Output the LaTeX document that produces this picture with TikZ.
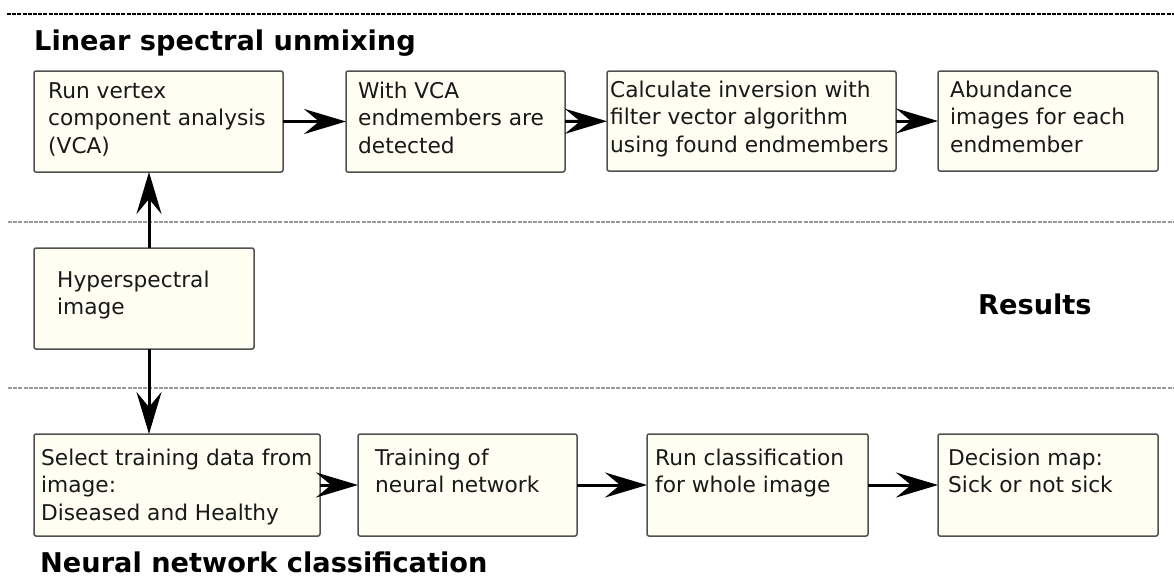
\documentclass[tikz,border=0pt]{standalone}
\usepackage{fontspec}
\setmainfont{DejaVu Sans}
\usetikzlibrary{arrows.meta}
\definecolor{boxfill}{RGB}{255,254,242}
\definecolor{boxline}{RGB}{80,80,80}
\definecolor{txt}{RGB}{25,25,25}
\newcommand\bodyfont{\fontsize{21.7}{27.5}\selectfont}
\newcommand\titlefont{\fontsize{27.2}{32}\selectfont\bfseries}
\tikzset{
  stepbox/.style={draw=boxline, line width=1.5pt, fill=boxfill, rounded corners=2pt,
    inner sep=0pt, outer sep=0pt, anchor=north west, minimum height=101pt},
  boxtext/.style={anchor=north west, inner sep=0pt, align=left, text=txt,
    font=\bodyfont},
  sectitle/.style={anchor=base west, inner sep=0pt, text=black, font=\titlefont},
  arr/.style={line width=3pt, -{Stealth[length=42pt,width=25pt,inset=15pt]}},
  sepline/.style={line width=2.2pt, dash pattern=on 4pt off 1.2pt}
}
\begin{document}
\begin{tikzpicture}[x=1pt,y=-1pt]
\useasboundingbox (0,0) rectangle (1174,579);
% separators
\draw[sepline, black] (7,14) -- (1174,14);
\draw[sepline, black!40] (8,222) -- (1174,222);
\draw[sepline, black!40] (8,388) -- (1174,388);
% titles
\node[sectitle] (t1) at (34,50) {Linear spectral unmixing};
\node[sectitle] (t2) at (40,572) {Neural network classification};
\node[sectitle] (t3) at (978,314) {Results};
% top row
\node[stepbox, minimum width=249pt] (v1) at (34,71) {};
\node[stepbox, minimum width=219pt] (v2) at (346,71) {};
\node[stepbox, minimum width=289pt, minimum height=100pt] (v3) at (607,71) {};
\node[stepbox, minimum width=220pt, minimum height=100pt] (v4) at (938,71) {};
\node[boxtext] (v1t) at (48,79) {\strut Run vertex\\component analysis\\(VCA)};
\node[boxtext] (v2t) at (358,79) {\strut With VCA\\endmembers are\\detected};
\node[boxtext] (v3t) at (610,78) {\strut Calculate inversion with\\filter vector algorithm\\using found endmembers};
\node[boxtext] (v4t) at (950,78) {\strut Abundance\\images for each\\endmember};
% middle
\node[stepbox, minimum width=220pt] (hs) at (34,248) {};
\node[boxtext] (hst) at (57,268) {\strut Hyperspectral\\image};
% bottom row
\node[stepbox, minimum width=286pt, minimum height=102pt] (n1) at (34,434) {};
\node[stepbox, minimum width=219pt, minimum height=102pt] (n2) at (358,434) {};
\node[stepbox, minimum width=221pt, minimum height=102pt] (n3) at (647,434) {};
\node[stepbox, minimum width=220pt, minimum height=102pt] (n4) at (938,434) {};
\node[boxtext] (n1t) at (41,446) {\strut Select training data from\\image:\\Diseased and Healthy};
\node[boxtext] (n2t) at (375,446) {\strut Training of\\neural network};
\node[boxtext] (n3t) at (655,446) {\strut Run classification\\for whole image};
\node[boxtext] (n4t) at (948,446) {\strut Decision map:\\Sick or not sick};
% connectors
\coordinate (ax) at (149,0);
\draw[arr] (hs.north -| ax) -- (v1.south -| ax);
\draw[arr] (hs.south -| ax) -- (n1.north -| ax);
\draw[arr] (v1) -- (v2);
\draw[arr] (v2) -- (v3);
\draw[arr] (v3) -- (v4);
\draw[arr] (n1) -- (n2);
\draw[arr] (n2) -- (n3);
\draw[arr] (n3) -- (n4);
\end{tikzpicture}
\end{document}
